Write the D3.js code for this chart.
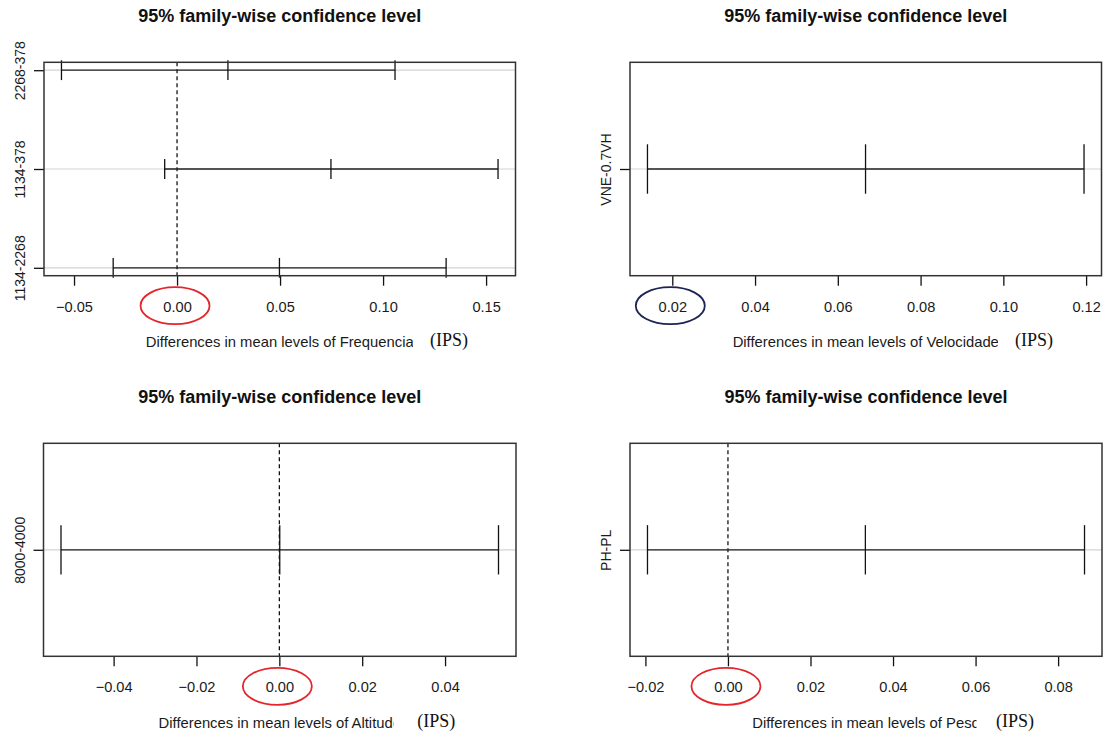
<!DOCTYPE html>
<html>
<head>
<meta charset="utf-8">
<script src="https://cdn.jsdelivr.net/npm/d3@7"></script>
<style>
  html, body { margin: 0; padding: 0; background: #fff; }
  svg { display: block; }
  text { font-family: "Liberation Sans", Arial, sans-serif; }
</style>
</head>
<body>
<svg id="chart" width="1108" height="737"></svg>
<script>
// Tukey HSD comparisons: difference in mean IPS with 95% family-wise intervals
const frequenciaGroups = ["2268-378", "1134-378", "1134-2268"];
const frequenciaDiff   = [0.0247, 0.0747, 0.0497];
const frequenciaLwr    = [-0.0561, -0.0060, -0.0310];
const frequenciaUpr    = [0.1058, 0.1558, 0.1306];
const frequenciaTicks  = [-0.05, 0.00, 0.05, 0.10, 0.15];

const velocidadeGroups = ["VNE-0.7VH"];
const velocidadeDiff   = [0.0667];
const velocidadeLwr    = [0.0140];
const velocidadeUpr    = [0.1195];
const velocidadeTicks  = [0.02, 0.04, 0.06, 0.08, 0.10, 0.12];

const altitudeGroups = ["8000-4000"];
const altitudeDiff   = [0.0001];
const altitudeLwr    = [-0.0527];
const altitudeUpr    = [0.0529];
const altitudeTicks  = [-0.04, -0.02, 0.00, 0.02, 0.04];

const pesoGroups = ["PH-PL"];
const pesoDiff   = [0.0333];
const pesoLwr    = [-0.0195];
const pesoUpr    = [0.0864];
const pesoTicks  = [-0.02, 0.00, 0.02, 0.04, 0.06, 0.08];

const titleText = "95% family-wise confidence level";
const unitText = "(IPS)";

// Panel layout: plot-box edges, where the unit note sits, and the circled tick
const panels = [
  { factor: "Frequencia", groups: frequenciaGroups, diff: frequenciaDiff, lwr: frequenciaLwr, upr: frequenciaUpr, ticks: frequenciaTicks,
    left: 44, right: 515.5, top: 62.3, bottom: 275.7, cut: 413, unitX: 430, mark: 0.00, markColor: "#e3262b" },
  { factor: "Velocidade", groups: velocidadeGroups, diff: velocidadeDiff, lwr: velocidadeLwr, upr: velocidadeUpr, ticks: velocidadeTicks,
    left: 630, right: 1101.5, top: 62.3, bottom: 275.7, cut: 998, unitX: 1015, mark: 0.02, markColor: "#1d2456" },
  { factor: "Altitude", groups: altitudeGroups, diff: altitudeDiff, lwr: altitudeLwr, upr: altitudeUpr, ticks: altitudeTicks,
    left: 43.5, right: 516, top: 443.3, bottom: 656.3, cut: 393.5, unitX: 417.3, mark: 0.00, markColor: "#e3262b" },
  { factor: "Peso", groups: pesoGroups, diff: pesoDiff, lwr: pesoLwr, upr: pesoUpr, ticks: pesoTicks,
    left: 630, right: 1102, top: 443.3, bottom: 656.3, cut: 976.5, unitX: 996, mark: 0.00, markColor: "#e3262b" }
];

const svg = d3.select("#chart");
svg.append("rect").attr("width", 1108).attr("height", 737).attr("fill", "#fff");

const fmt = d3.format(".2f");

panels.forEach(p => {
  const n = p.groups.length;
  const g = svg.append("g");

  // x limits: data range widened by 4% on each side
  const lo = d3.min(p.lwr), hi = d3.max(p.upr);
  const pad = (hi - lo) * 0.04;
  const x = d3.scaleLinear().domain([lo - pad, hi + pad]).range([p.left, p.right]);

  // y limits: rows n..1, widened by 4% (a single row gets 1 +/- 0.4 first)
  let yLo = 1, yHi = n;
  if (n === 1) { yLo = 0.6; yHi = 1.4; }
  const yPad = (yHi - yLo) * 0.04;
  const y = d3.scaleLinear().domain([yLo - yPad, yHi + yPad]).range([p.bottom, p.top]);

  const rows = p.groups.map((name, i) => ({
    name, yv: n - i, diff: p.diff[i], lwr: p.lwr[i], upr: p.upr[i]
  }));

  // light horizontal guides through each comparison
  g.selectAll("line.guide").data(rows).join("line")
    .attr("class", "guide")
    .attr("x1", p.left).attr("x2", p.right)
    .attr("y1", d => y(d.yv)).attr("y2", d => y(d.yv))
    .attr("stroke", "#d4d4d4").attr("stroke-width", 1.2);

  // dashed reference at zero difference
  const [d0, d1] = x.domain();
  if (d0 <= 0 && d1 >= 0) {
    g.append("line")
      .attr("x1", x(0)).attr("x2", x(0))
      .attr("y1", p.top).attr("y2", p.bottom)
      .attr("stroke", "#000").attr("stroke-width", 1.2)
      .attr("stroke-dasharray", "4,3");
  }

  // interval segments
  g.selectAll("line.ci").data(rows).join("line")
    .attr("class", "ci")
    .attr("x1", d => x(d.lwr)).attr("x2", d => x(d.upr))
    .attr("y1", d => y(d.yv)).attr("y2", d => y(d.yv))
    .attr("stroke", "#222").attr("stroke-width", 1.3);

  // vertical bars at lower bound, difference and upper bound
  const caps = rows.flatMap(d => [d.lwr, d.diff, d.upr].map(v => ({ v, yv: d.yv })));
  g.selectAll("line.cap").data(caps).join("line")
    .attr("class", "cap")
    .attr("x1", d => x(d.v)).attr("x2", d => x(d.v))
    .attr("y1", d => y(d.yv - 0.1)).attr("y2", d => y(d.yv + 0.1))
    .attr("stroke", "#111").attr("stroke-width", 1.3);

  // bottom axis
  const xAxis = g.append("g")
    .attr("transform", `translate(0,${p.bottom})`)
    .call(d3.axisBottom(x).tickValues(p.ticks).tickFormat(fmt).tickSize(10));
  xAxis.select(".domain").remove();
  xAxis.selectAll(".tick line").attr("stroke", "#111").attr("stroke-width", 1.3);
  xAxis.selectAll(".tick text")
    .attr("y", 36).attr("dy", 0)
    .attr("fill", "#1a1a1a")
    .style("font-size", "14.6px")
    .style("font-family", "'Liberation Sans', Arial, sans-serif");

  // left axis with rotated comparison names
  const yAxis = g.append("g")
    .attr("transform", `translate(${p.left},0)`)
    .call(d3.axisLeft(y).tickValues(rows.map(d => d.yv))
      .tickFormat(v => rows.find(r => r.yv === v).name).tickSize(10));
  yAxis.select(".domain").remove();
  yAxis.selectAll(".tick line").attr("stroke", "#111").attr("stroke-width", 1.3);
  yAxis.selectAll(".tick text")
    .attr("transform", "rotate(-90)")
    .attr("x", 0).attr("y", -19).attr("dy", 0)
    .attr("text-anchor", "middle")
    .attr("fill", "#1a1a1a")
    .style("font-size", "14px")
    .style("font-family", "'Liberation Sans', Arial, sans-serif");

  // plot frame
  g.append("rect")
    .attr("x", p.left).attr("y", p.top)
    .attr("width", p.right - p.left).attr("height", p.bottom - p.top)
    .attr("fill", "none").attr("stroke", "#333").attr("stroke-width", 1.5);

  const cx = (p.left + p.right) / 2;

  // title
  g.append("text")
    .attr("x", cx).attr("y", p.top - 40.5)
    .attr("text-anchor", "middle")
    .style("font-size", "18px").style("font-weight", "bold")
    .attr("fill", "#111")
    .text(titleText);

  // x label, trimmed where the unit note begins
  g.append("text")
    .attr("x", cx).attr("y", p.bottom + 71.5)
    .attr("text-anchor", "middle")
    .style("font-size", "14.8px")
    .attr("fill", "#1a1a1a")
    .text("Differences in mean levels of " + p.factor);
  g.append("rect")
    .attr("x", p.cut).attr("y", p.bottom + 52)
    .attr("width", p.unitX + 50 - p.cut).attr("height", 28)
    .attr("fill", "#fff");
  g.append("text")
    .attr("x", p.unitX).attr("y", p.bottom + 70.5)
    .style("font-family", "'Liberation Serif', 'Times New Roman', serif")
    .style("font-size", "18px")
    .attr("fill", "#111")
    .text(unitText);

  // highlight ring around one tick label
  g.append("ellipse")
    .attr("cx", x(p.mark) - 2).attr("cy", p.bottom + 30)
    .attr("rx", 34.5).attr("ry", 18.5)
    .attr("fill", "none")
    .attr("stroke", p.markColor).attr("stroke-width", 1.8);
});
</script>
</body>
</html>
